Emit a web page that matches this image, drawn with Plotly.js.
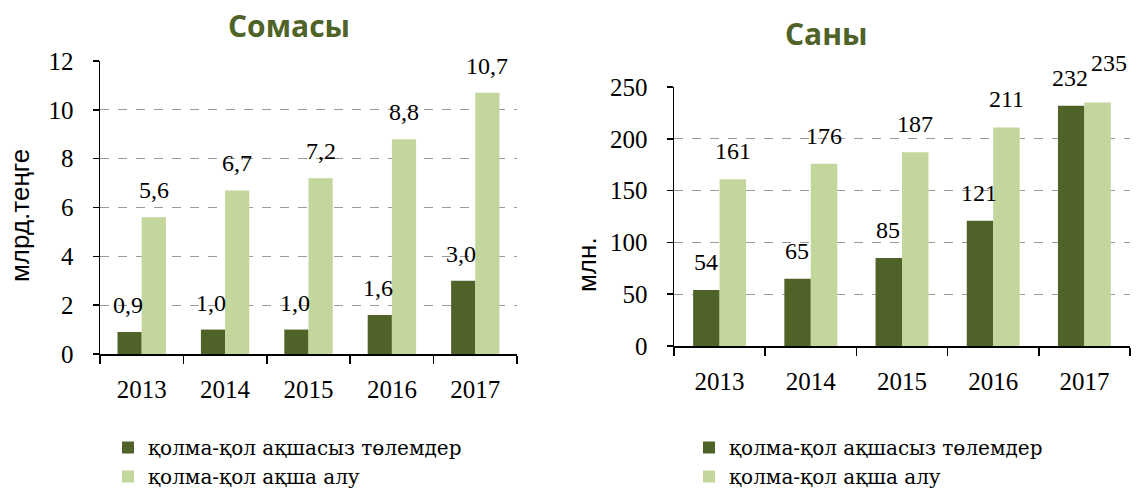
<!DOCTYPE html>
<html>
<head>
<meta charset="utf-8">
<script src="https://cdn.plot.ly/plotly-3.0.1.min.js"></script>
<style>html,body{margin:0;padding:0;background:#fff;}#chart{width:1143px;height:490px;}</style>
</head>
<body>
<div id="chart"></div>
<script>
const years = ['2013', '2014', '2015', '2016', '2017'];
const seriesNames = ['қолма-қол ақшасыз төлемдер', 'қолма-қол ақша алу'];
const sumCashless = [0.9, 1.0, 1.0, 1.6, 3.0];
const sumCash = [5.6, 6.7, 7.2, 8.8, 10.7];
const cntCashless = [54, 65, 85, 121, 232];
const cntCash = [161, 176, 187, 211, 235];
const leftTitle = 'Сомасы';
const rightTitle = 'Саны';
const leftYTitle = 'млрд.теңге';
const rightYTitle = 'млн.';

const DARK = '#4F6228';
const LIGHT = '#C3D69B';
const W = 1143, H = 490;
const serif = 'Liberation Serif, Times New Roman, serif';

function fmtComma(v) { return v.toFixed(1).replace('.', ','); }

const traces = [
  {type: 'bar', x: years, y: sumCashless, name: seriesNames[0], marker: {color: DARK}, xaxis: 'x', yaxis: 'y', legend: 'legend', hoverinfo: 'none'},
  {type: 'bar', x: years, y: sumCash, name: seriesNames[1], marker: {color: LIGHT}, xaxis: 'x', yaxis: 'y', legend: 'legend', hoverinfo: 'none'},
  {type: 'bar', x: years, y: cntCashless, name: seriesNames[0], marker: {color: DARK}, xaxis: 'x2', yaxis: 'y2', legend: 'legend2', hoverinfo: 'none'},
  {type: 'bar', x: years, y: cntCash, name: seriesNames[1], marker: {color: LIGHT}, xaxis: 'x2', yaxis: 'y2', legend: 'legend2', hoverinfo: 'none'}
];

const annotations = [];
function addLabels(vals, xref, yref, xshift, yshift, fmt, extra) {
  vals.forEach((v, i) => {
    const e = (extra && extra[i]) || {dx: 0, dy: 0};
    annotations.push({
      x: i, y: v, xref: xref, yref: yref, text: fmt(v), showarrow: false,
      xanchor: 'center', yanchor: 'bottom', xshift: xshift + e.dx, yshift: yshift + e.dy,
      font: {family: serif, size: 24, color: '#000'}
    });
  });
}
addLabels(sumCashless, 'x', 'y', -14, 12, fmtComma);
addLabels(sumCash, 'x', 'y', 12, 12, fmtComma);
addLabels(cntCashless, 'x2', 'y2', -14, 13, v => String(v));
addLabels(cntCash, 'x2', 'y2', 13, 13, v => String(v), [null, null, null, null, {dx: 12, dy: 12}]);

annotations.push({xref: 'paper', yref: 'paper', x: 289 / W, y: 1 - 26 / H, text: '<b>' + leftTitle + '</b>', showarrow: false, xanchor: 'center', yanchor: 'middle', font: {family: 'Open Sans, sans-serif', size: 30, color: DARK}});
annotations.push({xref: 'paper', yref: 'paper', x: 826 / W, y: 1 - 33 / H, text: '<b>' + rightTitle + '</b>', showarrow: false, xanchor: 'center', yanchor: 'middle', font: {family: 'Open Sans, sans-serif', size: 30, color: DARK}});
annotations.push({xref: 'paper', yref: 'paper', x: 20 / W, y: 1 - 216 / H, text: leftYTitle, textangle: -90, showarrow: false, xanchor: 'center', yanchor: 'middle', font: {family: 'Liberation Sans, Arial, sans-serif', size: 26, color: '#000'}});
annotations.push({xref: 'paper', yref: 'paper', x: 587 / W, y: 1 - 265 / H, text: rightYTitle, textangle: -90, showarrow: false, xanchor: 'center', yanchor: 'middle', font: {family: 'Liberation Sans, Arial, sans-serif', size: 26, color: '#000'}});

const xCommon = {
  type: 'category', range: [-0.5, years.length - 0.5], autorange: false,
  showline: true, linecolor: '#000', linewidth: 1.5,
  ticks: 'outside', tickson: 'boundaries', ticklen: 8, tickcolor: '#000', tickwidth: 1.5,
  tickfont: {family: serif, size: 25, color: '#000'}, ticklabelstandoff: 12, tickangle: 0,
  showgrid: false, zeroline: false, fixedrange: true
};
const yCommon = {
  showline: true, linecolor: '#000', linewidth: 1.5, autorange: false,
  ticks: 'outside', ticklen: 6, tickcolor: '#000', tickwidth: 1.5,
  tickfont: {family: serif, size: 25, color: '#000'}, ticklabelstandoff: 14,
  showgrid: true, gridcolor: '#9a9a9a', gridwidth: 1, griddash: 'dash',
  zeroline: false, fixedrange: true
};

const legendCommon = {
  orientation: 'v', xanchor: 'left', yanchor: 'top', bgcolor: 'rgba(0,0,0,0)',
  font: {family: 'DejaVu Serif, serif', size: 20, color: '#000'}, traceorder: 'normal'
};

const layout = {
  width: W, height: H,
  margin: {l: 0, r: 0, t: 0, b: 0, autoexpand: false},
  paper_bgcolor: '#fff', plot_bgcolor: '#fff',
  barmode: 'group', bargap: 0.42, bargroupgap: 0,
  showlegend: true,
  xaxis: Object.assign({}, xCommon, {domain: [100 / W, 517 / W], anchor: 'y'}),
  yaxis: Object.assign({}, yCommon, {domain: [1 - 354 / H, 1 - 61 / H], range: [0, 12], dtick: 2, anchor: 'x'}),
  xaxis2: Object.assign({}, xCommon, {domain: [674 / W, 1130 / W], anchor: 'y2'}),
  yaxis2: Object.assign({}, yCommon, {domain: [1 - 346 / H, 1 - 87 / H], range: [0, 250], dtick: 50, anchor: 'x2'}),
  legend: Object.assign({}, legendCommon, {x: 108 / W, y: 1 - 428 / H}),
  legend2: Object.assign({}, legendCommon, {x: 689 / W, y: 1 - 428 / H}),
  annotations: annotations
};

Plotly.newPlot('chart', traces, layout, {displayModeBar: false, staticPlot: true});
</script>
</body>
</html>
